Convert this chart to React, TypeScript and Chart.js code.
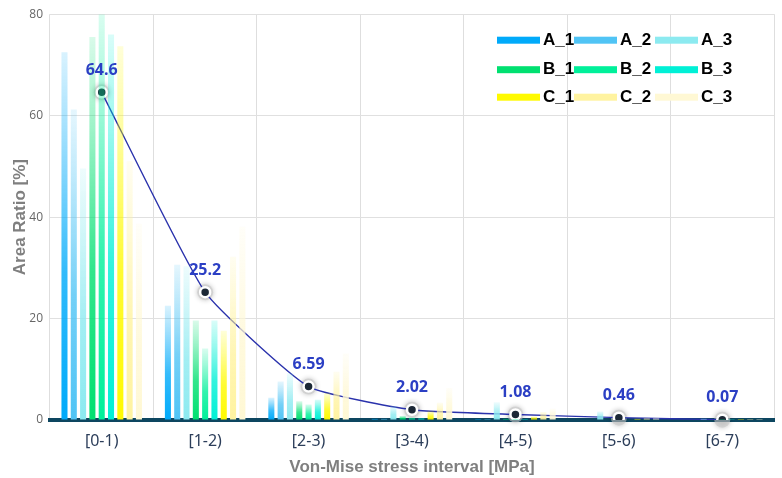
import React, { useEffect, useRef } from "react";
import { Chart, registerables } from "chart.js";

Chart.register(...registerables);

const categories = ["[0-1)", "[1-2)", "[2-3)", "[3-4)", "[4-5)", "[5-6)", "[6-7)"];
const seriesNames = ["A_1", "A_2", "A_3", "B_1", "B_2", "B_3", "C_1", "C_2", "C_3"];
const A_1 = [72.5, 22.5, 4.4, 0.3, 0.2, 0.1, 0.1];
const A_2 = [61.2, 30.6, 7.6, 0.3, 0.2, 0.1, 0.1];
const A_3 = [49.6, 30.3, 9.2, 2.7, 3.5, 1.7, 0.3];
const B_1 = [75.5, 19.6, 3.7, 0.8, 0.3, 0.1, 0.1];
const B_2 = [80, 14.1, 3.05, 0.5, 0.2, 0.1, 0.05];
const B_3 = [76, 19.6, 4.0, 0.4, 0.2, 0.1, 0.05];
const C_1 = [73.7, 17.6, 5.3, 1.75, 0.7, 0.3, 0.2];
const C_2 = [51, 32.2, 9.5, 3.4, 1.6, 0.4, 0.2];
const C_3 = [38.7, 38.1, 13.1, 6.3, 2.2, 0.4, 0.2];
const seriesValues = [A_1, A_2, A_3, B_1, B_2, B_3, C_1, C_2, C_3];
const average = [64.6, 25.2, 6.59, 2.02, 1.08, 0.46, 0.07];
const averageLabels = ["64.6", "25.2", "6.59", "2.02", "1.08", "0.46", "0.07"];
const yTicks = [0, 20, 40, 60, 80];
const seriesColors = [
  [0, 170, 250],
  [80, 196, 245],
  [140, 234, 240],
  [0, 224, 112],
  [0, 240, 154],
  [0, 240, 214],
  [255, 250, 0],
  [255, 243, 160],
  [255, 248, 212],
];

const rgba = (c: number[], a: number) => `rgba(${c[0]},${c[1]},${c[2]},${a})`;

const legendPlugin = {
  id: "gridLegend",
  afterDraw(chart: any) {
    const ctx = chart.ctx;
    const area = chart.chartArea;
    const x0 = area.right - 277;
    const y0 = area.top + 26;
    const colX = [0, 77, 158];
    const rowY = [0, 29.5, 57];
    ctx.save();
    ctx.font = "bold 17px 'Liberation Sans', Arial, sans-serif";
    ctx.textBaseline = "middle";
    ctx.textAlign = "left";
    seriesNames.forEach((name, i) => {
      const col = i % 3;
      const row = Math.floor(i / 3);
      const bx = x0 + colX[col];
      const by = y0 + rowY[row];
      ctx.fillStyle = rgba(seriesColors[i], 1);
      ctx.fillRect(bx, by - 3.5, 43, 7);
      ctx.fillStyle = "#000";
      ctx.fillText(name, bx + 46, by);
    });
    ctx.restore();
  },
};

const pointHaloPlugin = {
  id: "pointHalo",
  beforeDatasetDraw(chart: any, args: any) {
    if (args.meta.type !== "line") return;
    const ctx = chart.ctx;
    ctx.save();
    args.meta.data.forEach((pt: any) => {
      ctx.beginPath();
      ctx.arc(pt.x, pt.y, 8, 0, Math.PI * 2);
      ctx.fillStyle = "rgba(200,200,200,0.6)";
      ctx.shadowColor = "rgba(0,0,0,0.4)";
      ctx.shadowBlur = 5;
      ctx.fill();
    });
    ctx.restore();
  },
};

const valueLabelPlugin = {
  id: "valueLabels",
  afterDatasetsDraw(chart: any) {
    const idx = chart.data.datasets.findIndex((d: any) => d.type === "line");
    if (idx < 0) return;
    const meta = chart.getDatasetMeta(idx);
    const ctx = chart.ctx;
    ctx.save();
    ctx.font = "bold 16px 'Open Sans', 'Noto Sans', sans-serif";
    ctx.fillStyle = "#2b3fc4";
    ctx.textAlign = "center";
    ctx.textBaseline = "middle";
    meta.data.forEach((pt: any, i: number) => {
      ctx.fillText(averageLabels[i], pt.x, pt.y - 22);
    });
    ctx.restore();
  },
};

export default function App() {
  const ref = useRef<HTMLCanvasElement | null>(null);

  useEffect(() => {
    document.body.style.margin = "0";
    const canvas = ref.current;
    if (!canvas) return;

    const barDatasets = seriesNames.map((name, i) => {
      const color = seriesColors[i];
      return {
        type: "bar" as const,
        label: name,
        data: seriesValues[i],
        order: 0,
        borderWidth: 0,
        backgroundColor: (c: any) => {
          const chart = c.chart;
          const ys = chart.scales && chart.scales.y;
          if (!ys || c.type !== "data") return rgba(color, 1);
          const v = c.raw as number;
          const top = ys.getPixelForValue(v);
          const base = ys.getPixelForValue(0);
          if (!isFinite(top) || !isFinite(base) || base - top < 1) return rgba(color, 1);
          const g = chart.ctx.createLinearGradient(0, base, 0, top);
          g.addColorStop(0, rgba(color, 1));
          g.addColorStop(0.4, rgba(color, 0.8));
          g.addColorStop(0.75, rgba(color, 0.4));
          g.addColorStop(1, rgba(color, 0.15));
          return g;
        },
      };
    });

    const chart = new Chart(canvas, {
      type: "bar",
      data: {
        labels: categories,
        datasets: [
          ...barDatasets,
          {
            type: "line" as const,
            label: "Average",
            data: average,
            order: 10,
            borderColor: "#2a32ac",
            borderWidth: 1.4,
            tension: 0.15,
            pointRadius: 5,
            pointBorderWidth: 2.5,
            pointBackgroundColor: "#1c2836",
            pointBorderColor: "#ffffff",
          } as any,
        ],
      },
      options: {
        animation: false,
        responsive: false,
        devicePixelRatio: 1,
        layout: { padding: { left: 0, right: 8, top: 9, bottom: 0 } },
        datasets: {
          bar: { categoryPercentage: 0.81, barPercentage: 0.65 },
        },
        plugins: {
          legend: { display: false },
          tooltip: { enabled: false },
        },
        scales: {
          x: {
            z: 1,
            grid: { color: "#dedede", lineWidth: 1, drawTicks: false, offset: true },
            border: { display: true, color: "#0d4660", width: 4 },
            ticks: {
              color: "#2c3e5a",
              padding: 12,
              font: { size: 16, family: "'Noto Sans', 'Open Sans', sans-serif" },
            },
            title: {
              display: true,
              text: "Von-Mise stress interval [MPa]",
              color: "#7f7f7f",
              font: { size: 17, weight: "bold", family: "'Liberation Sans', Arial, sans-serif" },
              padding: { top: 0, bottom: 0 },
            },
            afterFit: (s: any) => {
              s.height = 58;
            },
          },
          y: {
            min: 0,
            max: 80,
            afterBuildTicks: (s: any) => {
              s.ticks = yTicks.map((v) => ({ value: v }));
            },
            grid: { color: "#e0e0e0", lineWidth: 1, drawTicks: false },
            border: { display: false },
            ticks: {
              color: "#666",
              padding: 7,
              font: { size: 12, family: "'Open Sans', 'Noto Sans', sans-serif" },
            },
            title: {
              display: true,
              text: "Area Ratio [%]",
              color: "#7f7f7f",
              font: { size: 17, weight: "bold", family: "'Liberation Sans', Arial, sans-serif" },
              padding: { top: 10, bottom: 0 },
            },
            afterFit: (s: any) => {
              s.width = 50;
            },
          },
        },
      } as any,
      plugins: [pointHaloPlugin, valueLabelPlugin, legendPlugin],
    });

    return () => chart.destroy();
  }, []);

  return (
    <div style={{ width: 782, height: 478, background: "#fff" }}>
      <canvas ref={ref} width={782} height={478} style={{ display: "block" }} />
    </div>
  );
}
